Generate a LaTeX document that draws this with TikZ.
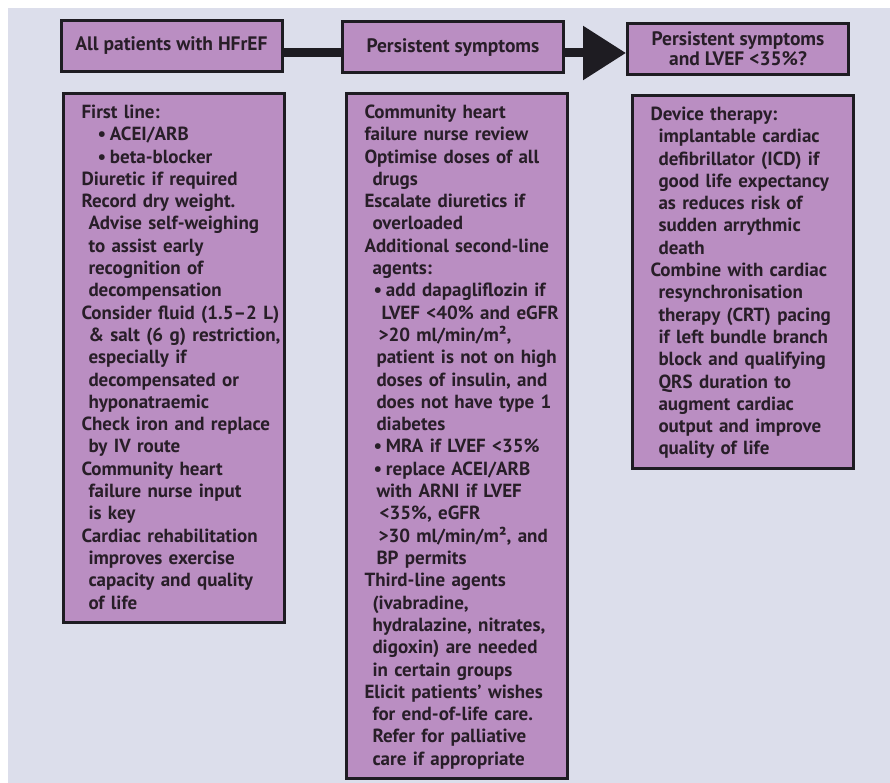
\documentclass[tikz,border=0pt]{standalone}
\usepackage{fontspec}
\setmainfont{PT Sans}
\usetikzlibrary{arrows.meta}
\definecolor{pagebg}{RGB}{220, 222, 235}
\definecolor{boxfill}{RGB}{186, 142, 194}
\definecolor{boxline}{RGB}{30, 28, 34}
\definecolor{inktext}{RGB}{40, 30, 40}

% one line of a list box, optional extra indent
\newcommand{\hfl}[2][0]{\hspace*{\dimexpr16.5pt+#1pt\relax}#2}
\newcommand{\blt}{\makebox[12.5pt][l]{\textbullet}}
\newcommand{\toprule}{\rule{0pt}{16.5pt}}
\newcommand{\botrule}{\rule[-5pt]{0pt}{5pt}}

\tikzset{
  headbox/.style={draw=boxline, line width=3pt, fill=boxfill, text=inktext,
    minimum width=221pt, minimum height=51pt, inner sep=0pt, align=center,
    font=\fontsize{19.5}{20}\selectfont\bfseries},
  listbox/.style={draw=boxline, line width=3pt, fill=boxfill, text=inktext,
    anchor=north west, text width=217pt, inner xsep=2pt, inner ysep=8pt,
    align=left, font=\fontsize{19}{22.3}\selectfont\bfseries},
  flowbar/.style={draw=boxline, line width=9pt}
}

\begin{document}
\begin{tikzpicture}[x=1pt, y=-1pt]
  \useasboundingbox (0, 0) rectangle (890, 783);
  \fill[pagebg] (8, 8) rectangle (890, 783);

  % header boxes
  \node[headbox] (head1) at (171.5, 46) {All patients with HFrEF};
  \node[headbox] (head2) at (453, 47.5) {Persistent symptoms};
  \node[headbox] (head3) at (738, 49) {Persistent symptoms\\and LVEF <35\%?};

  % connectors
  \draw[flowbar] ([yshift=-7pt]head1.east) -- ([yshift=-7pt]head1.east -| head2.west);
  \draw[flowbar, -{Triangle[length=43pt, width=52pt]}]
    ([yshift=-7pt]head1.east -| head2.east) -- ([yshift=-7pt]head1.east -| head3.west);

  % first line treatment
  \node[listbox] (list1) at (61.5, 92.5) {
    \hfl{\toprule First line:}\\
    \hfl[16]{\blt ACEI/ARB}\\
    \hfl[16]{\blt beta-blocker}\\
    \hfl{Diuretic if required}\\
    \hfl{Record dry weight.}\\
    \hfl[7]{Advise self-weighing}\\
    \hfl[7]{to assist early}\\
    \hfl[7]{recognition of}\\
    \hfl[7]{decompensation}\\
    \hfl{Consider fluid (1.5–2 L)}\\
    \hfl[7]{\& salt (6 g) restriction,}\\
    \hfl[7]{especially if}\\
    \hfl[7]{decompensated or}\\
    \hfl[7]{hyponatraemic}\\
    \hfl{Check iron and replace}\\
    \hfl[7]{by IV route}\\
    \hfl{Community heart}\\
    \hfl[7]{failure nurse input}\\
    \hfl[7]{is key}\\
    \hfl{Cardiac rehabilitation}\\
    \hfl[7]{improves exercise}\\
    \hfl[7]{capacity and quality}\\
    \hfl[7]{of life\botrule}
  };

  % persistent symptoms
  \node[listbox] (list2) at (344.5, 92.5) {
    \hfl{\toprule Community heart}\\
    \hfl{failure nurse review}\\
    \hfl{Optimise doses of all}\\
    \hfl[8]{drugs}\\
    \hfl{Escalate diuretics if}\\
    \hfl[8]{overloaded}\\
    \hfl{Additional second-line}\\
    \hfl[8]{agents:}\\
    \hfl[9]{\blt add dapagliflozin if}\\
    \hfl[17]{LVEF <40\% and eGFR}\\
    \hfl[14]{>20 ml/min/m²,}\\
    \hfl[12]{patient is not on high}\\
    \hfl[12]{doses of insulin, and}\\
    \hfl[12]{does not have type 1}\\
    \hfl[12]{diabetes}\\
    \hfl[9]{\blt MRA if LVEF <35\%}\\
    \hfl[9]{\blt replace ACEI/ARB}\\
    \hfl[12]{with ARNI if LVEF}\\
    \hfl[15]{<35\%, eGFR}\\
    \hfl[14]{>30 ml/min/m², and}\\
    \hfl[12]{BP permits}\\
    \hfl{Third-line agents}\\
    \hfl[8]{(ivabradine,}\\
    \hfl[8]{hydralazine, nitrates,}\\
    \hfl[8]{digoxin) are needed}\\
    \hfl[8]{in certain groups}\\
    \hfl{Elicit patients' wishes}\\
    \hfl[8]{for end-of-life care.}\\
    \hfl[8]{Refer for palliative}\\
    \hfl[8]{care if appropriate\botrule}
  };

  % device therapy
  \node[listbox] (list3) at (630.5, 94.5) {
    \hfl{\toprule Device therapy:}\\
    \hfl[8]{implantable cardiac}\\
    \hfl[8]{defibrillator (ICD) if}\\
    \hfl[8]{good life expectancy}\\
    \hfl[8]{as reduces risk of}\\
    \hfl[8]{sudden arrythmic}\\
    \hfl[8]{death}\\
    \hfl{Combine with cardiac}\\
    \hfl[8]{resynchronisation}\\
    \hfl[8]{therapy (CRT) pacing}\\
    \hfl[8]{if left bundle branch}\\
    \hfl[8]{block and qualifying}\\
    \hfl[8]{QRS duration to}\\
    \hfl[8]{augment cardiac}\\
    \hfl[8]{output and improve}\\
    \hfl[8]{quality of life\botrule}
  };
\end{tikzpicture}
\end{document}
